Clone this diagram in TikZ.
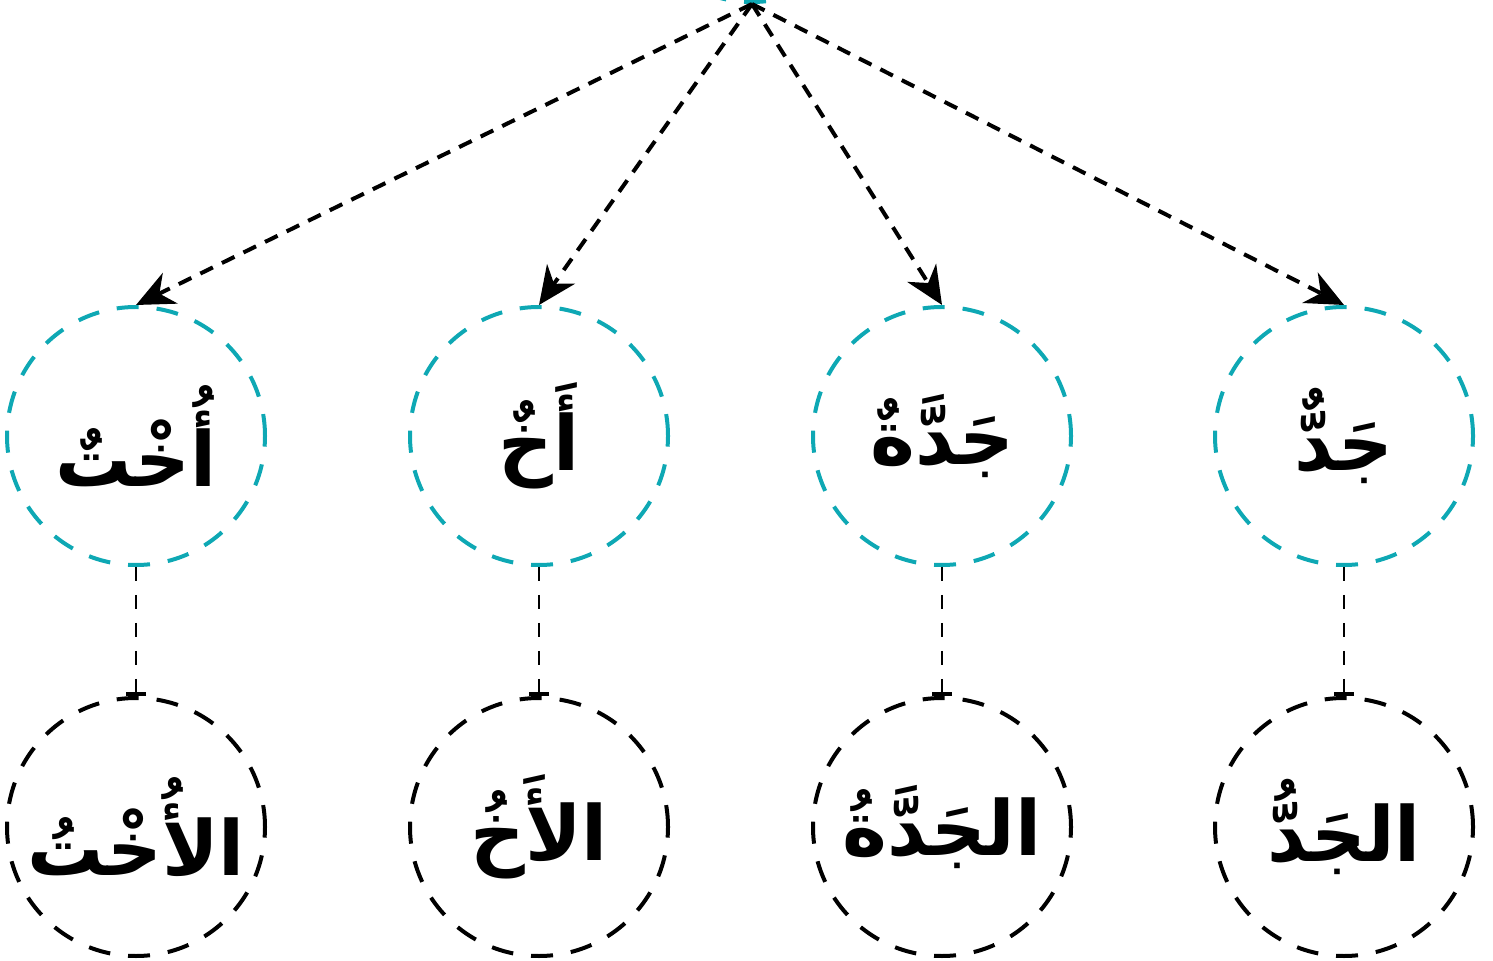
\documentclass[tikz,border=0pt]{standalone}
\usepackage{fontspec}
\usetikzlibrary{arrows.meta}
\TeXXeTstate=1
\newfontfamily\arabicfont[Script=Arabic]{DejaVu Sans}
\definecolor{tealc}{RGB}{14,168,180}
\tikzset{
  topc/.style={circle,draw=tealc,line width=2pt,dash pattern=on 11pt off 9pt,minimum size=129pt,inner sep=0pt,font=\arabicfont\fontsize{38}{44}\selectfont\bfseries},
  botc/.style={circle,draw=black,line width=2pt,dash pattern=on 11pt off 9pt,minimum size=129pt,inner sep=0pt,font=\arabicfont\fontsize{38}{44}\selectfont\bfseries},
  arr/.style={line width=2pt,dash pattern=on 7pt off 5pt,-{Stealth[length=19pt,width=17pt,inset=6pt]}},
  link/.style={line width=1pt,dash pattern=on 7pt off 7pt,-{Bar[width=10pt,line width=2pt]}}
}
\begin{document}
\begin{tikzpicture}[x=0.5pt,y=-0.5pt]
\useasboundingbox (0,0) rectangle (1493,961);
\node[topc] (root) at (752,-127) {};
\node[topc] (t1) at (136,436) {\beginR أُخْتٌ\endR};
\node[topc] (t2) at (539,436) {\beginR أَخٌ\endR};
\node[topc] (t3) at (942,436) {\beginR جَدَّةٌ\endR};
\node[topc] (t4) at (1344,436) {\beginR جَدٌّ\endR};
\node[botc] (b1) at (136,827) {\beginR الأُخْتُ\endR};
\node[botc] (b2) at (539,827) {\beginR الأَخُ\endR};
\node[botc] (b3) at (942,827) {\beginR الجَدَّةُ\endR};
\node[botc] (b4) at (1344,827) {\beginR الجَدُّ\endR};
\foreach \i in {1,2,3,4}{
  \draw[arr] (root.south) -- (t\i.north);
  \draw[link] (t\i.south) -- (b\i.north);
}
\end{tikzpicture}
\end{document}
